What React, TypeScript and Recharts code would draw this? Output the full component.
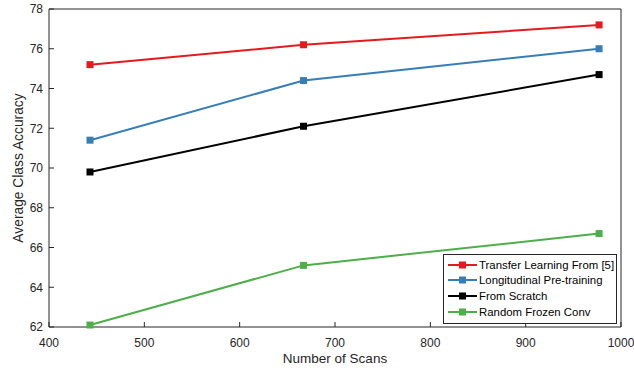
import { LineChart, Line, XAxis, YAxis } from 'recharts';

// Number of scans (x positions)
const scans = [443, 667, 977];

// Average class accuracy per method
const transferLearning = [75.2, 76.2, 77.2];
const longitudinalPretraining = [71.4, 74.4, 76.0];
const fromScratch = [69.8, 72.1, 74.7];
const randomFrozenConv = [62.1, 65.1, 66.7];

const xTicks = [400, 500, 600, 700, 800, 900, 1000];
const yTicks = [62, 64, 66, 68, 70, 72, 74, 76, 78];

const series = [
  { key: 'transfer', name: 'Transfer Learning From [5]', color: '#e41a1c', values: transferLearning },
  { key: 'longitudinal', name: 'Longitudinal Pre-training', color: '#377eb8', values: longitudinalPretraining },
  { key: 'scratch', name: 'From Scratch', color: '#000000', values: fromScratch },
  { key: 'frozen', name: 'Random Frozen Conv', color: '#4daf4a', values: randomFrozenConv },
];

const data = scans.map((s, i) => {
  const row: Record<string, number> = { scans: s };
  series.forEach(sr => { row[sr.key] = sr.values[i]; });
  return row;
});

const FONT = '"Liberation Sans", Arial, Helvetica, sans-serif';
const AXIS = '#262626';

function SquareDot(props: any) {
  const { cx, cy, fill } = props;
  if (cx == null || cy == null) return null;
  return <rect x={cx - 3.5} y={cy - 3.5} width={7} height={7} fill={fill} />;
}

function LegendBox() {
  return (
    <div
      style={{
        position: 'absolute',
        left: 443,
        top: 254,
        width: 172,
        height: 66,
        border: '1px solid ' + AXIS,
        background: '#fff',
        paddingTop: 2,
        fontFamily: FONT,
        fontSize: 11.4,
        color: '#000',
      }}
    >
      {series.map(s => (
        <div key={s.key} style={{ display: 'flex', alignItems: 'center', height: 15.6 }}>
          <svg width={35} height={10} style={{ flex: 'none' }}>
            <line x1={4} y1={5} x2={33} y2={5} stroke={s.color} strokeWidth={2} />
            <rect x={15} y={1.5} width={7} height={7} fill={s.color} />
          </svg>
          <span style={{ whiteSpace: 'nowrap' }}>{s.name}</span>
        </div>
      ))}
    </div>
  );
}

export default function App() {
  return (
    <div style={{ position: 'relative', width: 634, height: 370, background: '#fff' }}>
      <style>{`body{margin:0}`}</style>
      <LineChart
        width={634}
        height={370}
        data={data}
        margin={{ top: 8, right: 12, left: 0, bottom: 0 }}
        style={{ fontFamily: FONT }}
      >
        <XAxis
          xAxisId="bottom"
          dataKey="scans"
          type="number"
          domain={[400, 1000]}
          ticks={xTicks}
          height={43}
          tickSize={-5}
          tickMargin={16}
          stroke={AXIS}
          tick={{ fill: AXIS, fontSize: 12 }}
          label={{ value: 'Number of Scans', position: 'insideBottom', offset: 7, fill: AXIS, fontSize: 13.5 }}
        />
        <XAxis
          xAxisId="top"
          orientation="top"
          dataKey="scans"
          type="number"
          domain={[400, 1000]}
          ticks={xTicks}
          height={1}
          tickSize={-5}
          tick={false}
          stroke={AXIS}
        />
        <YAxis
          yAxisId="left"
          type="number"
          domain={[62, 78]}
          ticks={yTicks}
          width={49}
          tickSize={-5}
          tickMargin={11}
          stroke={AXIS}
          tick={{ fill: AXIS, fontSize: 12 }}
          label={{
            value: 'Average Class Accuracy',
            angle: -90,
            position: 'insideLeft',
            offset: 18,
            fill: AXIS,
            fontSize: 13.8,
            style: { textAnchor: 'middle' },
          }}
        />
        <YAxis
          yAxisId="right"
          orientation="right"
          type="number"
          domain={[62, 78]}
          ticks={yTicks}
          width={1}
          tickSize={-5}
          tick={false}
          stroke={AXIS}
        />
        {series.map(s => (
          <Line
            key={s.key}
            xAxisId="bottom"
            yAxisId="left"
            type="linear"
            dataKey={s.key}
            name={s.name}
            stroke={s.color}
            strokeWidth={2}
            dot={<SquareDot fill={s.color} />}
            activeDot={false}
            isAnimationActive={false}
          />
        ))}
      </LineChart>
      <LegendBox />
    </div>
  );
}
